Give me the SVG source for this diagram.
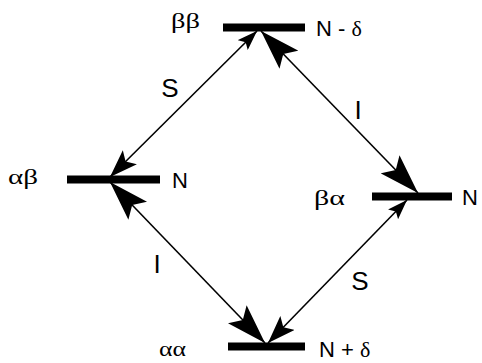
<svg xmlns="http://www.w3.org/2000/svg" width="482" height="363" viewBox="0 0 482 363">
<style>
.bar{stroke:#000;stroke-width:8;fill:none}
.con{stroke:#000;stroke-width:1.6;fill:none}
.greek{font-family:"Liberation Serif","DejaVu Serif",serif;font-size:22px;fill:#000}
.lab{font-family:"Liberation Sans",Arial,sans-serif;font-size:22px;fill:#000}
.big{font-family:"Liberation Sans",Arial,sans-serif;font-size:26px;fill:#000}
</style>
<defs>
<marker id="hb" markerUnits="userSpaceOnUse" viewBox="0 0 40 26" markerWidth="40" markerHeight="26" refX="40" refY="13" orient="auto-start-reverse"><path d="M0,0 L40,13 L0,26 L8,13 Z" fill="#000"/></marker>
<marker id="hm" markerUnits="userSpaceOnUse" viewBox="0 0 28 20" markerWidth="28" markerHeight="20" refX="28" refY="10" orient="auto-start-reverse"><path d="M0,0 L28,10 L0,20 L6,10 Z" fill="#000"/></marker>
<marker id="hs" markerUnits="userSpaceOnUse" viewBox="0 0 20 14" markerWidth="20" markerHeight="14" refX="20" refY="7" orient="auto-start-reverse"><path d="M0,0 L20,7 L0,14 L4,7 Z" fill="#000"/></marker>
</defs>
<g id="connectors">
<path class="con" d="M257,31 L110,177" marker-start="url(#hs)" marker-end="url(#hm)"/>
<path class="con" d="M261,31 L418,193" marker-start="url(#hb)" marker-end="url(#hb)"/>
<path class="con" d="M110,182 L265,343" marker-start="url(#hb)" marker-end="url(#hb)"/>
<path class="con" d="M407,200 L268,343" marker-start="url(#hs)" marker-end="url(#hm)"/>
<text class="big" x="170" y="97" text-anchor="middle">S</text>
<text class="big" x="358" y="119" text-anchor="middle">I</text>
<text class="big" x="157" y="273" text-anchor="middle">I</text>
<text class="big" x="360" y="290" text-anchor="middle">S</text>
</g>
<g id="bb">
<line class="bar" x1="223" y1="27.5" x2="305" y2="27.5"/>
<text class="greek" x="171" y="28" textLength="29" lengthAdjust="spacingAndGlyphs">ββ</text>
<text class="lab" x="316" y="36">N - <tspan class="greek">δ</tspan></text>
</g>
<g id="ab">
<line class="bar" x1="67" y1="179.5" x2="160" y2="179.5"/>
<text class="greek" x="8" y="184" textLength="30" lengthAdjust="spacingAndGlyphs">αβ</text>
<text class="lab" x="172" y="188">N</text>
</g>
<g id="ba">
<line class="bar" x1="372" y1="196.5" x2="452" y2="196.5"/>
<text class="greek" x="314" y="205" textLength="31" lengthAdjust="spacingAndGlyphs">βα</text>
<text class="lab" x="462" y="205">N</text>
</g>
<g id="aa">
<line class="bar" x1="228" y1="346.5" x2="305" y2="346.5"/>
<text class="greek" x="159" y="356" textLength="27" lengthAdjust="spacingAndGlyphs">αα</text>
<text class="lab" x="319" y="357">N + <tspan class="greek">δ</tspan></text>
</g>
</svg>
